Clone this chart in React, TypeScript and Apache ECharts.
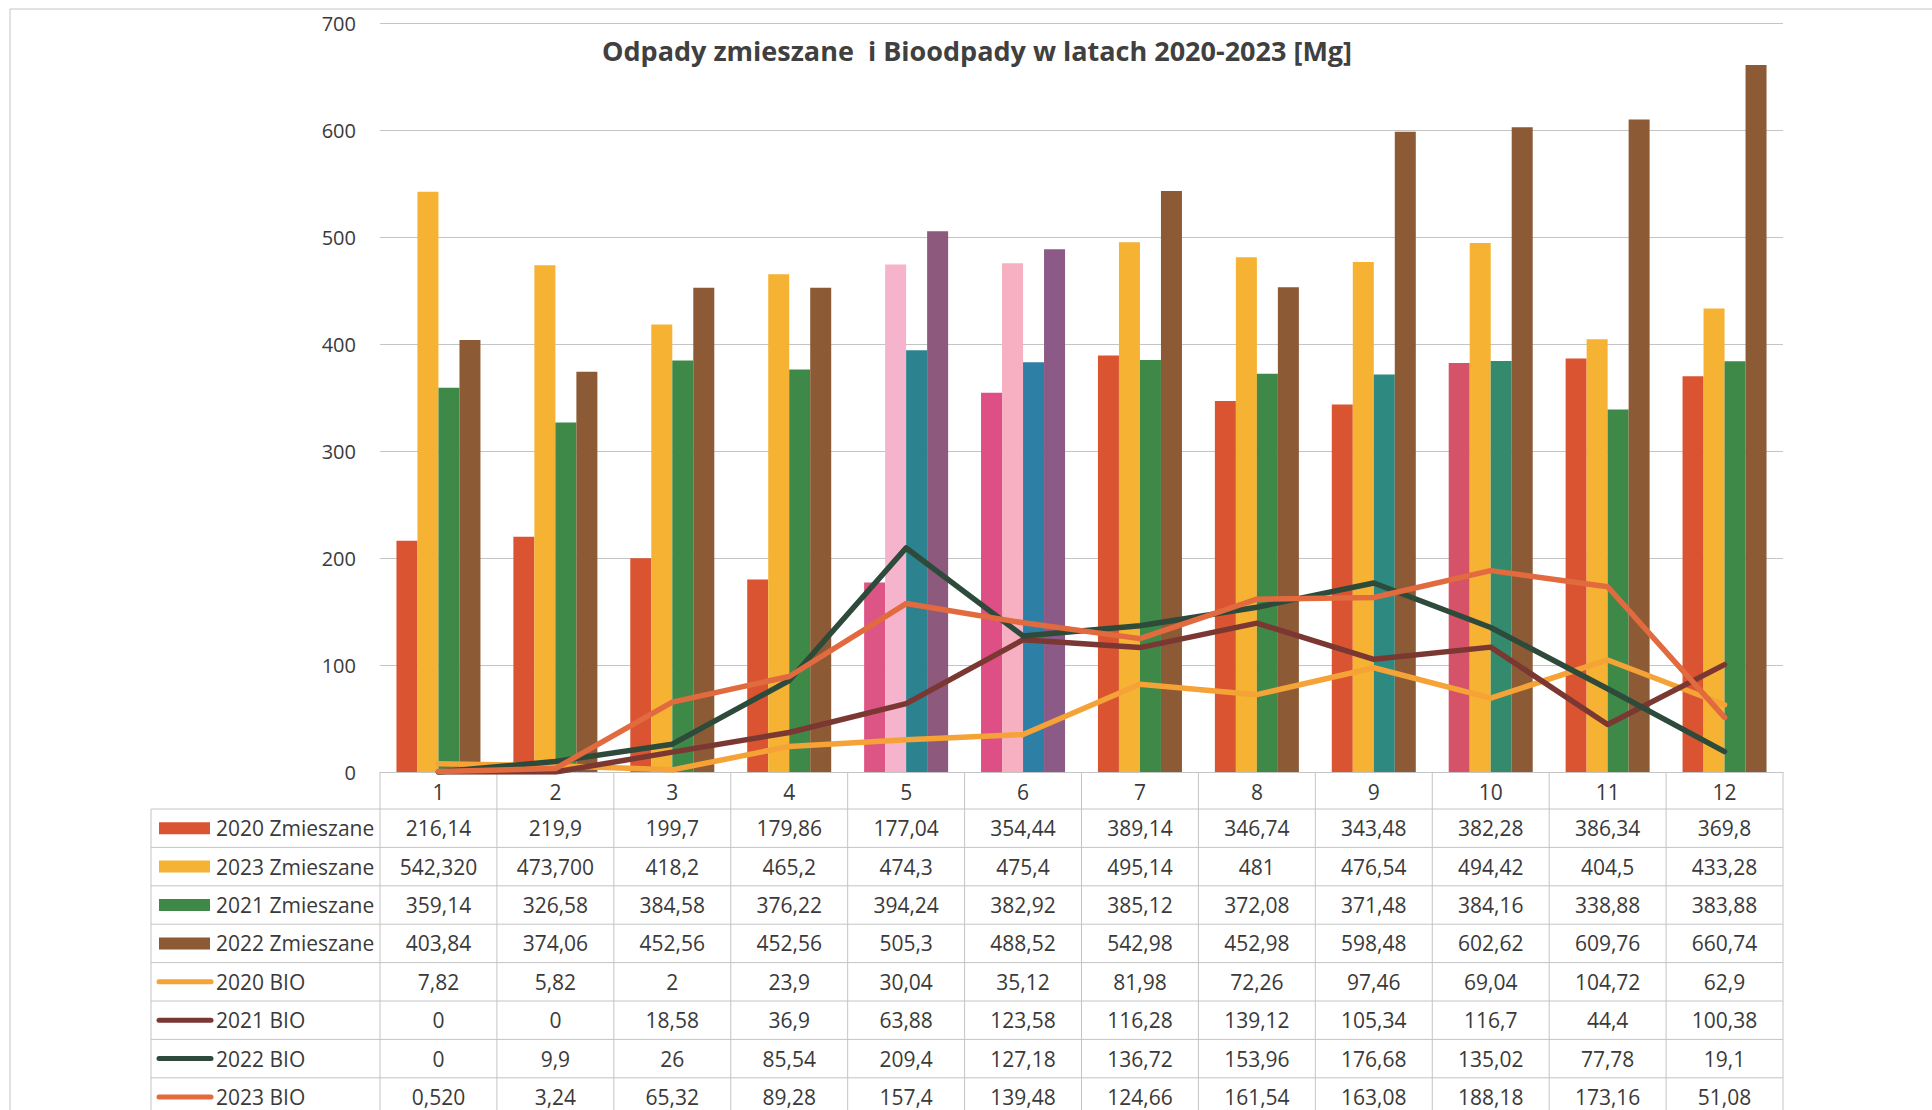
import React, { useEffect, useRef } from "react";
import * as echarts from "echarts";

// ---------- data (as printed in the chart's data table) ----------
const months = ["1", "2", "3", "4", "5", "6", "7", "8", "9", "10", "11", "12"];
const zm2020 = ["216,14", "219,9", "199,7", "179,86", "177,04", "354,44", "389,14", "346,74", "343,48", "382,28", "386,34", "369,8"];
const zm2023 = ["542,320", "473,700", "418,2", "465,2", "474,3", "475,4", "495,14", "481", "476,54", "494,42", "404,5", "433,28"];
const zm2021 = ["359,14", "326,58", "384,58", "376,22", "394,24", "382,92", "385,12", "372,08", "371,48", "384,16", "338,88", "383,88"];
const zm2022 = ["403,84", "374,06", "452,56", "452,56", "505,3", "488,52", "542,98", "452,98", "598,48", "602,62", "609,76", "660,74"];
const bio2020 = ["7,82", "5,82", "2", "23,9", "30,04", "35,12", "81,98", "72,26", "97,46", "69,04", "104,72", "62,9"];
const bio2021 = ["0", "0", "18,58", "36,9", "63,88", "123,58", "116,28", "139,12", "105,34", "116,7", "44,4", "100,38"];
const bio2022 = ["0", "9,9", "26", "85,54", "209,4", "127,18", "136,72", "153,96", "176,68", "135,02", "77,78", "19,1"];
const bio2023 = ["0,520", "3,24", "65,32", "89,28", "157,4", "139,48", "124,66", "161,54", "163,08", "188,18", "173,16", "51,08"];
const yTicks = [0, 100, 200, 300, 400, 500, 600, 700];
const title = "Odpady zmieszane  i Bioodpady w latach 2020-2023 [Mg]";

// ---------- styles ----------
const FONT = '"Open Sans", "Noto Sans", sans-serif';
const TXT = "#3a3a3a";
const GRIDC = "#c4c4c4";
const barColors = ["#DA5431", "#F6B233", "#3E8947", "#8C5A34"];
const lineColors = ["#F5A236", "#7B3833", "#2D4A3B", "#E26A3F"];
// scan colour shifts of single bars in the reference (month index -> colours per bar series)
const scanTint: Record<number, (string | null)[]> = {
  4: ["#DD5585", "#F5B4CB", "#2D8290", "#8D5A7D"],
  5: ["#DE4F86", "#F7AFC2", "#2E7FA6", "#8C5A86"],
  8: [null, null, "#2E8A80", null],
  9: ["#D65268", null, "#338A6C", null],
};

const W = 1932;
const H = 1110;
const GL = 380;
const GR = 1783;
const GT = 23;
const AXIS_Y = 772;
const ROW0 = 809;
const ROWH = 38.4;
const LEG_L = 151;

const num = (s: string) => parseFloat(s.replace(",", "."));

export default function App() {
  const ref = useRef<HTMLDivElement>(null);
  useEffect(() => {
    document.body.style.margin = "0";
    const chart = echarts.init(ref.current!, null, { renderer: "svg" });

    const barSets = [
      { name: "2020 Zmieszane", vals: zm2020 },
      { name: "2023 Zmieszane", vals: zm2023 },
      { name: "2021 Zmieszane", vals: zm2021 },
      { name: "2022 Zmieszane", vals: zm2022 },
    ];
    const lineSets = [
      { name: "2020 BIO", vals: bio2020 },
      { name: "2021 BIO", vals: bio2021 },
      { name: "2022 BIO", vals: bio2022 },
      { name: "2023 BIO", vals: bio2023 },
    ];

    const series: any[] = [];
    barSets.forEach((b, si) => {
      series.push({
        type: "bar",
        name: b.name,
        barWidth: 21,
        barGap: "0%",
        itemStyle: { color: barColors[si] },
        data: b.vals.map((v, i) => {
          const t = scanTint[i] && scanTint[i][si];
          return t ? { value: num(v), itemStyle: { color: t } } : num(v);
        }),
        z: 2,
      });
    });
    lineSets.forEach((l, si) => {
      series.push({
        type: "line",
        name: l.name,
        symbol: "none",
        lineStyle: { color: lineColors[si], width: 5.5, cap: "round", join: "round" },
        itemStyle: { color: lineColors[si] },
        data: l.vals.map(num),
        z: 3 + si,
      });
    });

    // ---------- data table (drawn under the plot) ----------
    const g: any[] = [];
    const colW = (GR - GL) / months.length;
    const line = (x1: number, y1: number, x2: number, y2: number) =>
      g.push({ type: "line", silent: true, shape: { x1, y1, x2, y2 }, style: { stroke: GRIDC, lineWidth: 1 } });
    const rows = [...barSets, ...lineSets];
    for (let k = 0; k <= months.length; k++) line(GL + k * colW, AXIS_Y, GL + k * colW, H);
    line(LEG_L, ROW0, LEG_L, H);
    for (let r = 0; r < rows.length; r++) line(LEG_L, ROW0 + r * ROWH, GR, ROW0 + r * ROWH);
    months.forEach((m, i) =>
      g.push({
        type: "text", silent: true, x: GL + (i + 0.5) * colW, y: (AXIS_Y + ROW0) / 2 + 1,
        style: { text: m, fill: TXT, fontSize: 21, fontFamily: FONT, align: "center", verticalAlign: "middle" },
      })
    );
    rows.forEach((row, r) => {
      const cy = ROW0 + (r + 0.5) * ROWH;
      if (r < 4) {
        g.push({ type: "rect", silent: true, shape: { x: 159, y: cy - 6, width: 51, height: 12 }, style: { fill: barColors[r] } });
      } else {
        g.push({
          type: "line", silent: true, shape: { x1: 159, y1: cy, x2: 211, y2: cy },
          style: { stroke: lineColors[r - 4], lineWidth: 5, lineCap: "round" },
        });
      }
      g.push({
        type: "text", silent: true, x: 216, y: cy,
        style: { text: row.name, fill: TXT, fontSize: 21, fontFamily: FONT, align: "left", verticalAlign: "middle" },
      });
      row.vals.forEach((v, i) =>
        g.push({
          type: "text", silent: true, x: GL + (i + 0.5) * colW, y: cy,
          style: { text: v, fill: TXT, fontSize: 21, fontFamily: FONT, align: "center", verticalAlign: "middle" },
        })
      );
    });
    line(10, 9, W, 9);
    line(10, 9, 10, H);
    g.push({
      type: "text", silent: true, x: 977, y: 50,
      style: { text: title, fill: "#404040", fontSize: 27, fontWeight: "bold", fontFamily: FONT, align: "center", verticalAlign: "middle" },
    });

    chart.setOption({
      animation: false,
      backgroundColor: "#ffffff",
      legend: { show: false },
      tooltip: { show: false },
      grid: { left: GL, right: W - GR, top: GT, bottom: H - AXIS_Y, containLabel: false },
      xAxis: {
        type: "category",
        data: months,
        axisLine: { show: true, lineStyle: { color: GRIDC } },
        axisTick: { show: false },
        axisLabel: { show: false },
      },
      yAxis: {
        type: "value",
        min: yTicks[0],
        max: yTicks[yTicks.length - 1],
        interval: yTicks[1] - yTicks[0],
        axisLine: { show: false },
        axisTick: { show: false },
        axisLabel: { color: TXT, fontSize: 20, fontFamily: FONT, margin: 24 },
        splitLine: { lineStyle: { color: GRIDC, width: 1 } },
      },
      series,
      graphic: g,
    });
    return () => chart.dispose();
  }, []);
  return <div ref={ref} style={{ width: W, height: H, background: "#fff" }} />;
}
